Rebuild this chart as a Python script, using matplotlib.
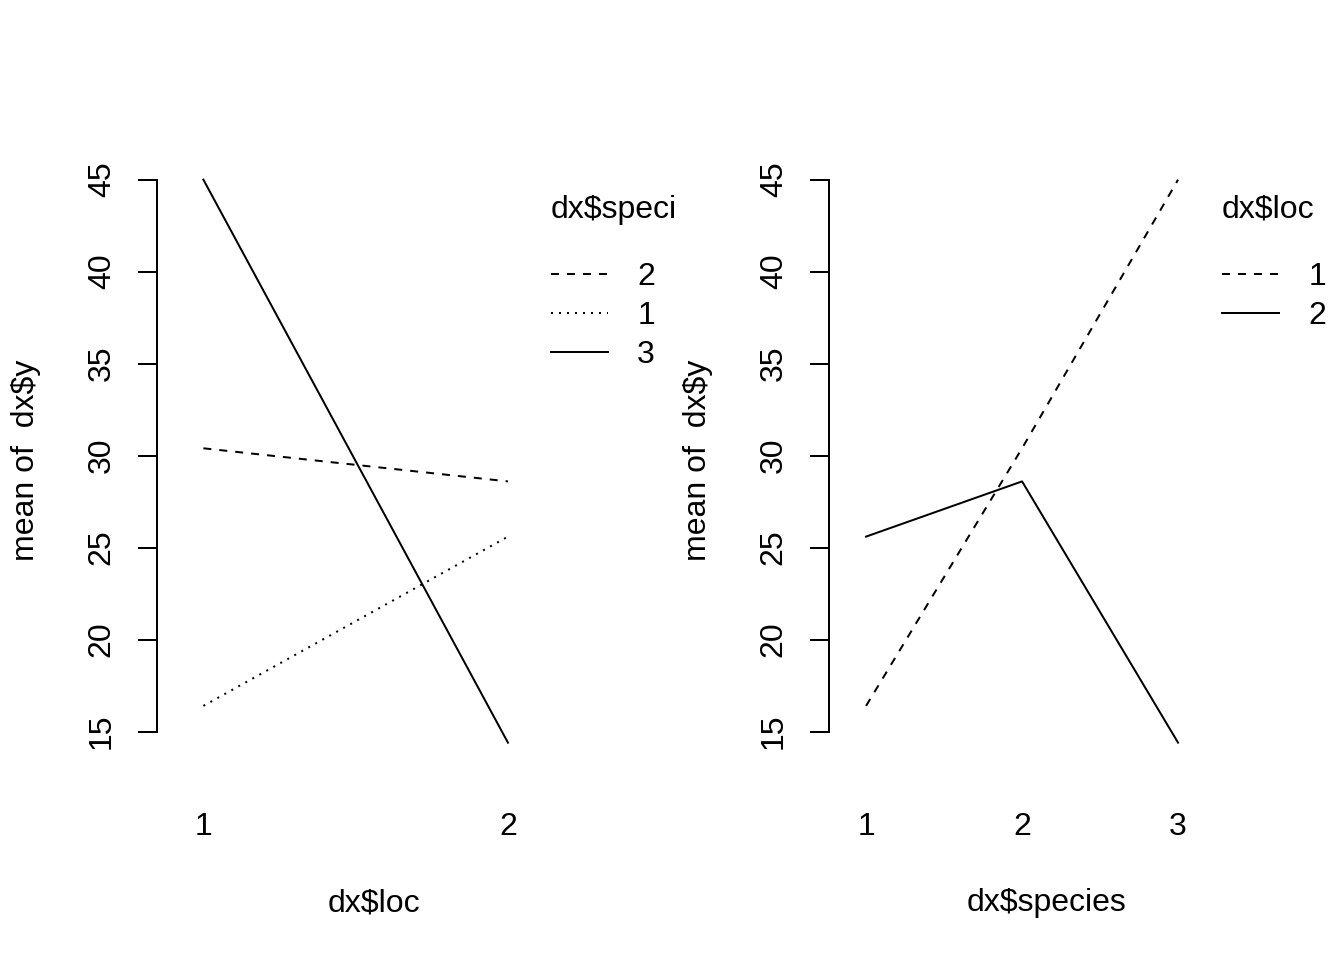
import matplotlib
matplotlib.use("Agg")
from matplotlib import pyplot as plt

plt.rcParams['font.family'] = ['Liberation Sans', 'DejaVu Sans']
plt.rcParams['font.size'] = 12

# mean of dx$y by loc and species
loc_levels = ['1', '2']
species_levels = ['1', '2', '3']
species1 = [16.4, 25.6]   # species 1 at loc 1, loc 2
species2 = [30.4, 28.6]
species3 = [45.0, 14.4]

# species order in legend of left panel (sorted by value at last loc, descending)
left_order = ['2', '1', '3']
left_styles = {'2': (0, (4, 4)), '1': (0, (1, 3)), '3': '-'}
by_species = {'1': species1, '2': species2, '3': species3}

loc1 = [species1[0], species2[0], species3[0]]
loc2 = [species1[1], species2[1], species3[1]]
right_order = ['1', '2']
right_styles = {'1': (0, (4, 4)), '2': '-'}
by_loc = {'1': loc1, '2': loc2}

W, H = 1344, 960
fig = plt.figure(figsize=(7, 5), dpi=192)
AX_L, AX_T, AX_W, AX_H = 157.4, 157.4, 434.0, 606.8


def px_axes(left):
    return fig.add_axes([left / W, 1 - (AX_T + AX_H) / H, AX_W / W, AX_H / H])


def style_axes(ax, xlabel):
    for s in ['top', 'right', 'bottom']:
        ax.spines[s].set_visible(False)
    ax.spines['left'].set_linewidth(0.75)
    ax.spines['left'].set_bounds(15, 45)
    ax.set_ylim(13.23, 46.21)
    ax.set_yticks([15, 20, 25, 30, 35, 40, 45])
    ax.tick_params(axis='y', length=7.2, width=0.75, pad=8, labelrotation=90)
    for t in ax.get_yticklabels():
        t.set_verticalalignment('center')
    ax.tick_params(axis='x', length=0, pad=18)
    ax.set_xlabel(xlabel, va='center')
    ax.xaxis.set_label_coords(0.5, -(903 - (AX_T + AX_H)) / AX_H)
    ax.set_ylabel('mean of  dx$y', va='center')
    ax.yaxis.set_label_coords(-(AX_L - 26) / AX_W, 0.5)


def add_legend(ax, title, x0):
    leg = ax.legend(title=title, frameon=False, loc='upper left',
                    bbox_to_anchor=(x0 / W, 1 - 182 / H), bbox_transform=fig.transFigure,
                    handlelength=1.8, handletextpad=0.9, labelspacing=0.28,
                    alignment='left', borderaxespad=0)
    leg._legend_box.sep = 14
    return leg


# left panel: x = loc, trace = species
ax1 = px_axes(AX_L)
xs = [1, 2]
for sp in left_order:
    ax1.plot(xs, by_species[sp], color='black', lw=0.75,
             linestyle=left_styles[sp], label=sp)
ax1.set_xlim(0.849, 2.274)
ax1.set_xticks(xs)
ax1.set_xticklabels(loc_levels)
style_axes(ax1, 'dx$loc')
add_legend(ax1, 'dx$speci', 538)

# right panel: x = species, trace = loc
ax2 = px_axes(672 + AX_L)
xs2 = [1, 2, 3]
for lc in right_order:
    ax2.plot(xs2, by_loc[lc], color='black', lw=0.75,
             linestyle=right_styles[lc], label=lc)
ax2.set_xlim(0.765, 3.547)
ax2.set_xticks(xs2)
ax2.set_xticklabels(species_levels)
style_axes(ax2, 'dx$species')
add_legend(ax2, 'dx$loc', 1209)

fig.savefig('out.png', dpi=192)
